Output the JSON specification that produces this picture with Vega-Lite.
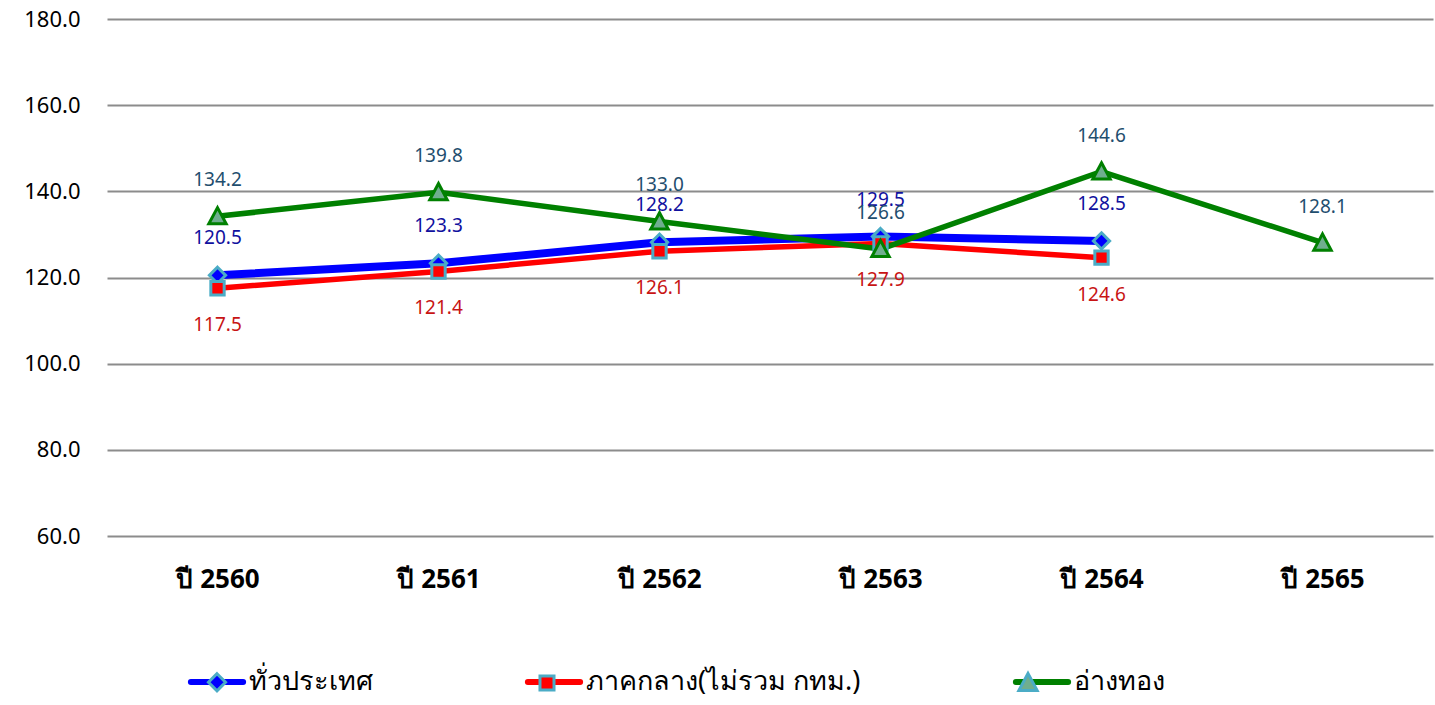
{
  "$schema": "https://vega.github.io/schema/vega-lite/v6.json",
  "width": 1326,
  "height": 517,
  "autosize": {"type": "none"},
  "padding": {"left": 107, "top": 19, "right": 2, "bottom": 169},
  "config": {"view": {"stroke": null}, "font": "Noto Sans"},
  "data": {
    "values": [
      {"year": "ปี 2560", "series": "ทั่วประเทศ", "value": 120.5},
      {"year": "ปี 2561", "series": "ทั่วประเทศ", "value": 123.3},
      {"year": "ปี 2562", "series": "ทั่วประเทศ", "value": 128.2},
      {"year": "ปี 2563", "series": "ทั่วประเทศ", "value": 129.5},
      {"year": "ปี 2564", "series": "ทั่วประเทศ", "value": 128.5},
      {"year": "ปี 2560", "series": "ภาคกลาง(ไม่รวม กทม.)", "value": 117.5},
      {"year": "ปี 2561", "series": "ภาคกลาง(ไม่รวม กทม.)", "value": 121.4},
      {"year": "ปี 2562", "series": "ภาคกลาง(ไม่รวม กทม.)", "value": 126.1},
      {"year": "ปี 2563", "series": "ภาคกลาง(ไม่รวม กทม.)", "value": 127.9},
      {"year": "ปี 2564", "series": "ภาคกลาง(ไม่รวม กทม.)", "value": 124.6},
      {"year": "ปี 2560", "series": "อ่างทอง", "value": 134.2},
      {"year": "ปี 2561", "series": "อ่างทอง", "value": 139.8},
      {"year": "ปี 2562", "series": "อ่างทอง", "value": 133.0},
      {"year": "ปี 2563", "series": "อ่างทอง", "value": 126.6},
      {"year": "ปี 2564", "series": "อ่างทอง", "value": 144.6},
      {"year": "ปี 2565", "series": "อ่างทอง", "value": 128.1}
    ]
  },
  "encoding": {
    "x": {
      "field": "year", "type": "ordinal",
      "scale": {"type": "point", "padding": 0.5},
      "axis": {"title": null, "labelAngle": 0, "labelFontSize": 26, "labelFontWeight": "bold", "labelColor": "#000000", "labelPadding": 30, "domain": false, "ticks": false, "grid": false}
    },
    "y": {
      "field": "value", "type": "quantitative",
      "scale": {"domain": [60, 180], "nice": false, "zero": false},
      "axis": {"title": null, "values": [60, 80, 100, 120, 140, 160, 180], "format": ".1f", "labelFontSize": 22, "labelColor": "#000000", "labelPadding": 27, "domain": false, "ticks": false, "grid": true, "gridColor": "#8c8c8c", "gridWidth": 2, "gridOpacity": 1}
    }
  },
  "layer": [
    {
      "mark": {"type": "line", "strokeCap": "round", "strokeJoin": "round"},
      "encoding": {
        "stroke": {
          "field": "series", "type": "nominal",
          "scale": {"range": ["#0000ff", "#ff0000", "#008000"]},
          "legend": {"orient": "none", "legendX": 78, "legendY": 631, "direction": "horizontal", "title": null, "symbolType": "M-0.9,0H0.9", "symbolSize": 3364, "symbolStrokeWidth": 6, "labelFontSize": 27, "labelColor": "#000000", "columnPadding": 142, "labelOffset": 0, "padding": 0, "zindex": 0, "labelLimit": 0,
            "encode": {"symbols": {"update": {"strokeCap": {"value": "round"}}}}}
        },
        "strokeWidth": {"condition": {"test": "datum.series === 'ทั่วประเทศ'", "value": 8}, "value": 5.5}
      }
    },
    {
      "mark": {"type": "point", "filled": true, "size": 3364, "strokeWidth": 3, "opacity": 1},
      "encoding": {
        "fill": {
          "field": "series", "type": "nominal",
          "scale": {"domain": ["ทั่วประเทศ", "ภาคกลาง(ไม่รวม กทม.)", "อ่างทอง"], "range": ["#0000ff", "#ff0000", "#6fae8e"]},
          "legend": {"orient": "none", "legendX": 78, "legendY": 631, "direction": "horizontal", "title": null, "symbolSize": 3721, "symbolStrokeWidth": 3, "labelFontSize": 27, "labelOpacity": 0, "columnPadding": 142, "labelOffset": 0, "padding": 0, "zindex": 1, "labelLimit": 0,
            "encode": {"symbols": {"update": {"stroke": {"signal": "(datum.value === 'อ่างทอง' ? '#008000' : '#4bacc6')"}, "opacity": {"value": 1}}}}}
        },
        "shape": {
          "field": "series", "type": "nominal",
          "scale": {"domain": ["ทั่วประเทศ", "ภาคกลาง(ไม่รวม กทม.)", "อ่างทอง"], "range": ["M0,-0.28L0.28,0L0,0.28L-0.28,0Z", "M-0.23,-0.23H0.23V0.23H-0.23Z", "M0,-0.3L0.3,0.26H-0.3Z"]},
          "legend": {"orient": "none", "legendX": 78, "legendY": 631, "direction": "horizontal", "title": null, "symbolSize": 3721, "symbolStrokeWidth": 3, "labelFontSize": 27, "labelOpacity": 0, "columnPadding": 142, "labelOffset": 0, "padding": 0, "zindex": 1, "labelLimit": 0,
            "encode": {"symbols": {"update": {"stroke": {"signal": "(datum.value === 'อ่างทอง' ? '#008000' : '#4bacc6')"}, "opacity": {"value": 1}}}}}
        },
        "stroke": {"condition": {"test": "datum.series === 'อ่างทอง'", "value": "#008000"}, "value": "#4bacc6"}
      }
    },
    {
      "transform": [{"filter": "datum.series === 'ทั่วประเทศ'"}],
      "mark": {"type": "text", "dy": -37, "fontSize": 19, "color": "#10109e"},
      "encoding": {"text": {"field": "value", "type": "quantitative", "format": ".1f"}}
    },
    {
      "transform": [{"filter": "datum.series === 'ภาคกลาง(ไม่รวม กทม.)'"}],
      "mark": {"type": "text", "dy": 37, "fontSize": 19, "color": "#c81414"},
      "encoding": {"text": {"field": "value", "type": "quantitative", "format": ".1f"}}
    },
    {
      "transform": [{"filter": "datum.series === 'อ่างทอง'"}],
      "mark": {"type": "text", "dy": -36, "fontSize": 19, "color": "#1f4e6e"},
      "encoding": {"text": {"field": "value", "type": "quantitative", "format": ".1f"}}
    }
  ]
}
